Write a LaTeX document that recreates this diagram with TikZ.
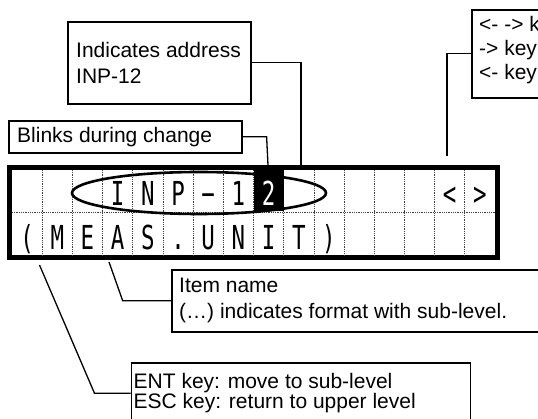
\documentclass[tikz,border=0pt]{standalone}
\usepackage{graphicx}
\usepackage{fontspec}
\setmainfont{Liberation Sans}
\newfontfamily\lcdfont{DejaVu Sans Mono}
\usetikzlibrary{calc, positioning}

\newcommand{\lcdch}[1]{\scalebox{0.68}[1]{\lcdfont\fontsize{33}{33}\selectfont #1}}

\begin{document}
\begin{tikzpicture}[x=1pt, y=-1pt,
    labelbox/.style={draw, line width=1.6pt, anchor=north west, inner sep=0pt},
    labeltext/.style={inner sep=0pt, align=left},
    leader/.style={line width=1.3pt},
    cellline/.style={line width=0.7pt, black!75, dash pattern=on 1pt off 0.8pt},
    lcdchar/.style={inner sep=0pt, anchor=base}]
    \useasboundingbox (0,0) rectangle (538,419);
    \clip (0,0) rectangle (538,419);

    % Màn hình LCD
    \draw[line width=5pt] (9.5,167.5) rectangle (497.5,257.5);
    \foreach \i in {1,...,15}
        \draw[cellline] ({12+\i*30.1875},170) -- ({12+\i*30.1875},255);
    \draw[cellline] (12,212.5) -- (495,212.5);
    \draw[line width=2.6pt] (199,193) ellipse [x radius=127, y radius=21];
    \fill (253.5,170) rectangle (283.7,211);

    % Ký tự
    \foreach \k/\c in {3/I, 4/N, 5/P, 6/−, 7/1, 14/<, 15/>}
        \node[lcdchar] (up\k) at ({12+(\k+0.5)*30.1875},205.5) {\lcdch{\c}};
    \node[lcdchar, text=white] (up8) at ({12+8.5*30.1875},205.5) {\lcdch{2}};
    \foreach \k/\c in {0/{(}, 1/M, 2/E, 3/A, 4/S, 5/., 6/U, 7/N, 8/I, 9/T, 10/{)}}
        \node[lcdchar] (low\k) at ({12+(\k+0.5)*30.1875},250) {\lcdch{\c}};

    % Chú thích
    \node[labelbox, minimum width=233pt, minimum height=32pt] (blinkbox) at (8,120) {};
    \node[labeltext, font=\fontsize{21}{26}\selectfont, right=9pt of blinkbox.west] (blinktext) {Blinks during change};
    \node[labelbox, minimum width=183pt, minimum height=82pt] (addrbox) at (67,21) {};
    \node[labeltext, font=\fontsize{21}{26}\selectfont, right=9pt of addrbox.west] (addrtext) {Indicates address\\INP-12};
    \node[labelbox, minimum width=200pt, minimum height=88pt] (keybox) at (471,9) {};
    \node[labeltext, font=\fontsize{21}{24}\selectfont, right=8pt of keybox.west, yshift=4pt] (keytext) {<- -> key\\-> key\\<- key};
    \node[labelbox, minimum width=420pt, minimum height=62pt] (itembox) at (171,269) {};
    \node[labeltext, font=\fontsize{21}{26}\selectfont, right=8pt of itembox.west] (itemtext) {Item name\\(…) indicates format with sub-level.};
    \node[labelbox, minimum width=339pt, minimum height=61pt] (entbox) at (130.5,362) {};
    \node[labeltext, font=\fontsize{21}{20}\selectfont, right=3pt of entbox.west] (enttext) {ENT key: move to sub-level\\ESC key: return to upper level};

    % Đường dẫn
    \coordinate (blinkend) at (268,165);
    \coordinate (addrend) at (301,165);
    \coordinate (keyend) at (447,156);
    \coordinate (itemend) at (109,262);
    \coordinate (entend) at (39.5,265);
    \draw[leader] (blinkbox.east) -- ++(24,0) -- (blinkend);
    \draw[leader] (addrbox.east) -| (addrend);
    \draw[leader] (keybox.west) -| (keyend);
    \draw[leader] (itembox.west) -- ++(-48.3,0) -- (itemend);
    \draw[leader] (entbox.west) -- ++(-36,0) -- (entend);
\end{tikzpicture}
\end{document}
